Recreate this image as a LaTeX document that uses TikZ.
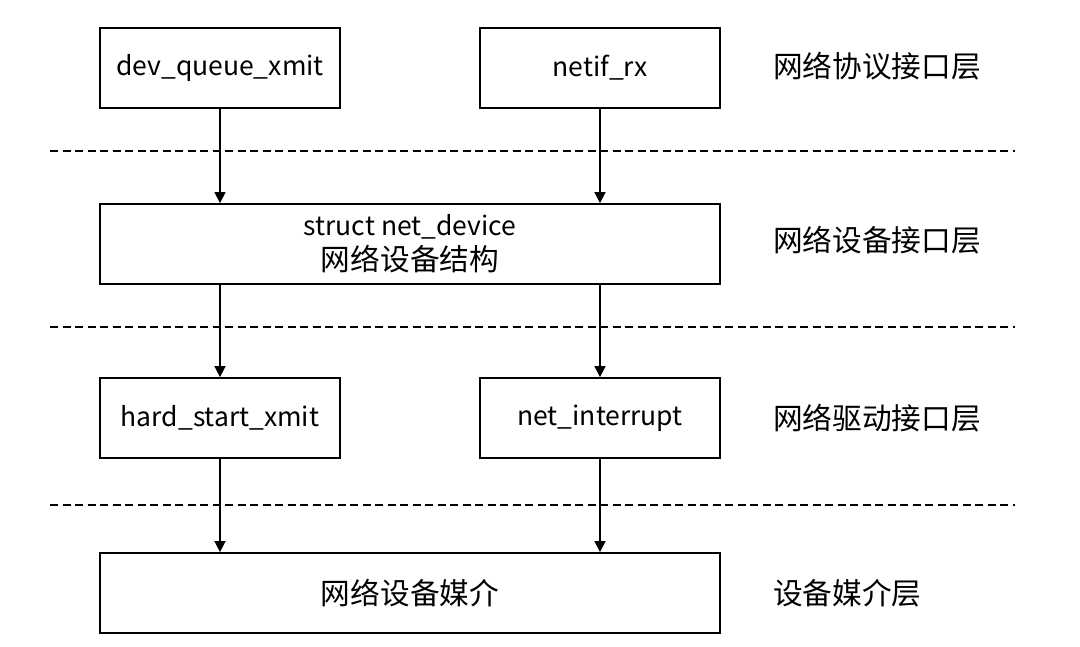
\documentclass[tikz,border=0pt]{standalone}
\usepackage{fontspec}
\setmainfont{Noto Sans CJK SC}
\newfontfamily\cjk{Noto Sans CJK SC}[Scale=1.12]
\usetikzlibrary{arrows.meta}
\begin{document}
\begin{tikzpicture}[x=1pt,y=-1pt,
  box/.style={draw=black,line width=1.8pt,inner sep=0pt,anchor=center},
  lbl/.style={anchor=west,inner sep=0pt},
  sep/.style={line width=1.4pt,dash pattern=on 8pt off 4.5pt},
  arr/.style={line width=1.6pt,-{Triangle[width=11pt,length=11pt]}},
  font=\fontsize{26.5}{34}\selectfont]
\useasboundingbox (0,0) rectangle (1080,646);
\node[box,minimum width=240pt,minimum height=80pt] (a) at (220,68) {dev\_queue\_xmit};
\node[box,minimum width=240pt,minimum height=80pt] (b) at (600,68) {netif\_rx};
\node[box,minimum width=620pt,minimum height=80pt,align=center] (c) at (410,244) {struct net\_device\\[1pt]{\cjk 网络设备结构}};
\node[box,minimum width=240pt,minimum height=80pt] (d) at (220,418) {hard\_start\_xmit};
\node[box,minimum width=240pt,minimum height=80pt] (e) at (600,418) {net\_interrupt};
\node[box,minimum width=620pt,minimum height=80pt] (f) at (410,593) {\cjk 网络设备媒介};
\node[lbl] (l1) at (773,66) {\cjk 网络协议接口层};
\node[lbl] (l2) at (773,240) {\cjk 网络设备接口层};
\node[lbl] (l3) at (773,418) {\cjk 网络驱动接口层};
\node[lbl] (l4) at (773,593) {\cjk 设备媒介层};
\coordinate (s1a) at (50,151); \coordinate (s1b) at (1015,151);
\coordinate (s2a) at (50,327); \coordinate (s2b) at (1015,327);
\coordinate (s3a) at (50,505); \coordinate (s3b) at (1015,505);
\draw[sep] (s1a) -- (s1b);
\draw[sep] (s2a) -- (s2b);
\draw[sep] (s3a) -- (s3b);
\draw[arr] (a.south) -- (a.south |- c.north);
\draw[arr] (b.south) -- (b.south |- c.north);
\draw[arr] (c.south -| a.south) -- (d.north);
\draw[arr] (c.south -| b.south) -- (e.north);
\draw[arr] (d.south) -- (d.south |- f.north);
\draw[arr] (e.south) -- (e.south |- f.north);
\end{tikzpicture}
\end{document}
